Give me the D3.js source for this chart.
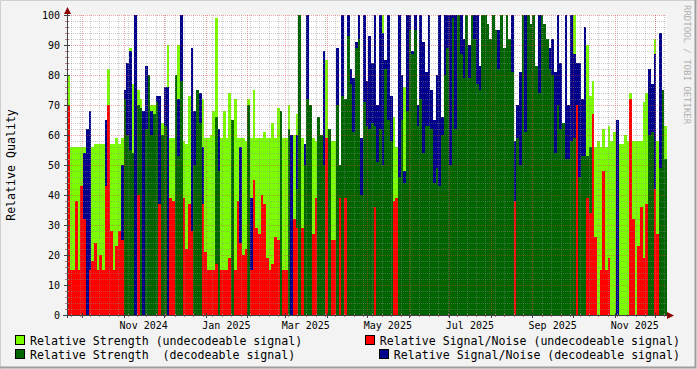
<!DOCTYPE html>
<html><head><meta charset="utf-8">
<script src="https://cdn.jsdelivr.net/npm/d3@7"></script>
<style>
html,body{margin:0;padding:0;background:#f3f3f3;}
svg{display:block;}
text{font-family:"DejaVu Sans Mono",monospace;}
</style></head><body>
<svg id="c" width="697" height="369"></svg>
<script>
const _ = null;
// time bins: one value every 2 days starting at startDate
const startDate = "2024-09-20";
const endDate = "2025-12-10";
const stepDays = 2;

const strengthUndec = [80,56,56,56,56,56,56,60,56,56,57,57,57,57,58,82,57,57,59,57,
59,_,_,89,77,_,75,72,_,_,_,70,70,_,64,64,_,90,59,59,
_,90,_,58,57,73,60,_,_,_,72,59,59,60,68,99,_,59,68,59,
74,64,72,59,59,59,58,72,59,75,59,59,59,61,59,59,64,59,69,_,
59,59,70,_,60,67,_,59,_,_,_,59,58,66,_,_,85,58,58,58,
_,_,95,_,_,_,75,_,_,_,_,_,_,_,64,_,_,100,_,_,
_,66,56,48,73,76,_,_,_,_,_,_,_,_,_,_,_,49,_,_,
_,_,_,_,_,_,_,68,_,_,_,_,92,_,_,_,_,_,_,_,
_,_,_,_,_,_,_,_,_,_,_,_,_,_,_,_,_,_,_,_,
_,_,_,_,_,_,_,_,100,_,_,_,92,90,73,78,56,58,56,62,
56,63,58,61,57,57,57,60,58,74,58,58,58,58,71,74,_,_,92,58,
_,63,63];
const snrUndec = [70,15,15,38,15,43,32,_,15,18,24,15,20,15,43,70,28,15,23,28,
25,_,_,_,_,_,40,_,_,_,_,_,_,_,37,_,_,_,39,38,
_,_,_,39,22,37,28,_,_,_,37,21,15,15,15,17,_,15,15,15,
19,_,15,38,24,20,22,_,15,45,29,27,40,37,19,15,17,26,25,_,
15,15,_,_,32,29,_,29,_,_,_,27,39,_,_,_,59,_,25,25,
_,39,_,39,_,_,_,_,_,_,_,_,_,_,36,_,_,_,_,_,
_,38,39,_,_,_,_,_,_,_,_,_,_,_,_,_,_,_,_,_,
_,_,_,_,_,_,_,_,_,_,_,_,_,_,_,_,_,_,_,_,
_,_,_,_,_,_,38,_,_,_,_,_,_,_,_,_,_,_,_,_,
_,_,_,_,_,_,_,_,_,70,_,_,_,39,34,67,26,_,15,48,
15,19,_,_,_,_,_,_,_,72,32,_,23,36,19,37,_,_,42,27,
_,_,_];
const strengthDec = [_,_,_,_,_,_,_,_,_,_,_,_,_,_,_,_,_,_,_,_,
_,72,60,55,54,_,70,69,_,62,80,60,67,71,_,60,63,_,_,_,
80,53,78,_,_,_,_,50,75,64,_,_,_,_,_,66,48,_,_,_,
_,65,_,_,_,_,_,70,_,_,_,_,_,_,_,_,_,_,_,68,
_,_,62,_,_,42,100,_,50,72,70,_,_,66,60,50,_,62,_,_,
70,50,73,72,93,77,61,89,92,40,71,63,62,64,63,51,62,50,82,65,
58,_,_,46,65,44,68,95,87,95,63,72,54,63,63,62,44,49,43,60,
80,89,50,99,62,100,87,79,100,79,100,92,77,75,100,100,97,92,100,95,
82,100,89,100,92,81,_,59,50,100,61,100,97,100,83,74,100,97,92,82,
80,54,70,62,64,52,52,58,59,46,46,53,53,53,56,_,_,_,_,_,
_,_,_,_,_,_,_,_,_,_,_,_,_,_,_,_,60,61,_,_,
49,75,52];
const snrDec = [56,_,_,_,_,_,54,62,68,_,_,_,_,_,65,_,_,_,_,_,
50,75,84,88,43,100,_,62,68,83,65,68,65,73,73,43,76,76,_,_,
78,72,100,_,_,_,89,68,55,74,56,_,_,_,_,52,62,_,_,_,
_,54,_,_,56,_,_,62,39,_,_,_,_,_,_,_,_,_,_,57,
_,_,_,60,_,60,88,_,57,100,_,_,_,56,54,88,_,57,_,_,
89,42,100,59,100,82,79,91,100,59,100,78,93,84,100,70,100,94,85,100,
73,_,_,100,80,48,100,100,88,100,70,100,91,81,100,75,65,80,100,66,
100,100,100,100,100,_,100,92,_,90,_,100,100,83,100,_,_,_,_,_,
95,_,_,100,_,100,58,70,81,_,100,_,_,_,_,100,_,_,_,89,
92,81,100,84,_,100,70,100,87,84,84,72,96,_,_,_,_,_,_,_,
_,_,_,_,65,_,_,_,_,_,_,_,_,_,_,_,82,77,87,_,
94,63,_];

const yTickValues = [0,10,20,30,40,50,60,70,80,90,100];
const xLabelMonths = ["2024-11-01","2025-01-01","2025-03-01","2025-05-01","2025-07-01","2025-09-01","2025-11-01"];
const xLabelTexts = ["Nov 2024","Jan 2025","Mar 2025","May 2025","Jul 2025","Sep 2025","Nov 2025"];
const seriesNames = ["Relative Strength (undecodeable signal)","Relative Signal/Noise (undecodeable signal)",
  "Relative Strength  (decodeable signal)","Relative Signal/Noise (decodeable signal)"];
const seriesColors = ["#7cfc00","#ff0000","#006400","#00008b"];
const yTitle = "Relative Quality";
const watermark = "RRDTOOL / TOBI OETIKER";

const W = 697, H = 369;
const svg = d3.select("#c");
const parse = d3.utcParse("%Y-%m-%d");
const t0 = parse(startDate), t1 = parse(endDate);
const x = d3.scaleUtc().domain([t0, t1]).range([67, 667]);
const y = d3.scaleLinear().domain([0, 100]).range([315, 15]);
const binStart = i => d3.utcDay.offset(t0, i * stepDays);

// background & frame
svg.append("rect").attr("width", W).attr("height", H).attr("fill", "#f3f3f3");
svg.append("path").attr("d", `M0.5,${H} V0.5 H${W}`).attr("stroke", "#cfcfcf").attr("stroke-width", 1).attr("fill", "none");
svg.append("path").attr("d", `M0,${H-1.5} H${W-1.5} V0`).attr("stroke", "#9e9e9e").attr("stroke-width", 2).attr("fill", "none");
svg.append("rect").attr("x", 67).attr("y", 15).attr("width", 600).attr("height", 300).attr("fill", "#ffffff");

const plot = svg.append("g").attr("shape-rendering", "crispEdges");
function drawSeries(vals, color) {
  const pts = vals.map((v, i) => ({ v, i })).filter(d => d.v != null);
  plot.append("g").selectAll("rect").data(pts).join("rect")
    .attr("x", d => Math.round(x(binStart(d.i))))
    .attr("width", d => Math.min(667, Math.round(x(binStart(d.i + 1)))) - Math.round(x(binStart(d.i))))
    .attr("y", d => y(d.v))
    .attr("height", d => y(0) - y(d.v))
    .attr("fill", color);
}
drawSeries(strengthUndec, seriesColors[0]);
drawSeries(snrDec, seriesColors[3]);
drawSeries(strengthDec, seriesColors[2]);
drawSeries(snrUndec, seriesColors[1]);

// grid (drawn over data like rrdtool)
const grid = svg.append("g").attr("shape-rendering", "crispEdges");
const minorY = d3.range(0, 101, 2).filter(v => v % 10 !== 0);
grid.selectAll(".my").data(minorY).join("line")
  .attr("x1", 67).attr("x2", 667).attr("y1", d => Math.round(y(d)) + 0.5).attr("y2", d => Math.round(y(d)) + 0.5)
  .attr("stroke", "rgba(140,140,140,0.45)").attr("stroke-dasharray", "1,1");
const weeks = d3.utcMonday.range(t0, t1);
grid.selectAll(".mx").data(weeks).join("line")
  .attr("y1", 15).attr("y2", 315).attr("x1", d => Math.round(x(d)) + 0.5).attr("x2", d => Math.round(x(d)) + 0.5)
  .attr("stroke", "rgba(140,140,140,0.45)").attr("stroke-dasharray", "1,1");
grid.selectAll(".My").data(yTickValues.filter(v => v > 0)).join("line")
  .attr("x1", 67).attr("x2", 667).attr("y1", d => Math.round(y(d)) + 0.5).attr("y2", d => Math.round(y(d)) + 0.5)
  .attr("stroke", "rgba(225,60,60,0.45)").attr("stroke-dasharray", "1,1");
const months = d3.utcMonth.range(d3.utcMonth.ceil(t0), t1);
grid.selectAll(".Mx").data(months).join("line")
  .attr("y1", 15).attr("y2", 315).attr("x1", d => Math.round(x(d)) + 0.5).attr("x2", d => Math.round(x(d)) + 0.5)
  .attr("stroke", "rgba(225,60,60,0.45)").attr("stroke-dasharray", "1,1");

// axes
const ax = svg.append("g").attr("shape-rendering", "crispEdges");
ax.selectAll(".yt").data(minorY).join("line")
  .attr("x1", 65).attr("x2", 69).attr("y1", d => Math.round(y(d)) + 0.5).attr("y2", d => Math.round(y(d)) + 0.5)
  .attr("stroke", "#c08080");
ax.selectAll(".yT").data(yTickValues).join("line")
  .attr("x1", 64).attr("x2", 70).attr("y1", d => Math.round(y(d)) + 0.5).attr("y2", d => Math.round(y(d)) + 0.5)
  .attr("stroke", "#404040");
ax.selectAll(".xt").data(weeks).join("line")
  .attr("y1", 314).attr("y2", 317).attr("x1", d => Math.round(x(d)) + 0.5).attr("x2", d => Math.round(x(d)) + 0.5)
  .attr("stroke", "#c08080");
ax.selectAll(".xT").data(months).join("line")
  .attr("y1", 313).attr("y2", 318).attr("x1", d => Math.round(x(d)) + 0.5).attr("x2", d => Math.round(x(d)) + 0.5)
  .attr("stroke", "#404040");
ax.append("line").attr("x1", 67.5).attr("x2", 67.5).attr("y1", 318).attr("y2", 10).attr("stroke", "#404040");
ax.append("line").attr("x1", 63).attr("x2", 670).attr("y1", 315.5).attr("y2", 315.5).attr("stroke", "#404040");
svg.append("path").attr("d", "M67.5,7 L64,14 L71,14 Z").attr("fill", "#8b0000");
svg.append("path").attr("d", "M674,315.5 L667,312 L667,319 Z").attr("fill", "#8b0000");

// y labels
svg.append("g").selectAll("text").data(yTickValues).join("text")
  .attr("x", 60).attr("y", d => y(d) + 3.5).attr("text-anchor", "end")
  .attr("font-size", "10px").attr("fill", "#000").text(d => d);
// x labels (centered in the month)
svg.append("g").selectAll("text").data(xLabelMonths).join("text")
  .attr("x", d => { const m = parse(d); return (x(m) + x(d3.utcMonth.offset(m, 1))) / 2; })
  .attr("y", 328.5).attr("text-anchor", "middle").attr("font-size", "10px").attr("fill", "#000")
  .text((d, i) => xLabelTexts[i]);

// y title
svg.append("text").attr("transform", "translate(15,165) rotate(-90)").attr("text-anchor", "middle")
  .attr("font-size", "11.6px").attr("fill", "#000").text(yTitle);
// watermark
svg.append("text").attr("transform", "translate(684,5) rotate(90)").attr("text-anchor", "start")
  .attr("font-size", "9px").attr("fill", "#b0b0b0").text(watermark);

// legend
const leg = svg.append("g");
const legRows = [{ y: 345, items: [0, 1] }, { y: 359, items: [2, 3] }];
legRows.forEach(r => {
  const li = r.items[0], ri = r.items[1];
  leg.append("rect").attr("x", 15.5).attr("y", r.y - 9.5).attr("width", 9).attr("height", 9)
    .attr("fill", seriesColors[li]).attr("stroke", "#000").attr("stroke-width", 1);
  leg.append("text").attr("x", 30).attr("y", r.y).attr("font-size", "11.6px").attr("fill", "#000")
    .style("white-space", "pre").text(seriesNames[li]);
  const t = leg.append("text").attr("x", 680).attr("y", r.y).attr("text-anchor", "end")
    .attr("font-size", "11.6px").attr("fill", "#000").style("white-space", "pre").text(seriesNames[ri]);
  const tw = t.node().getComputedTextLength();
  leg.append("rect").attr("x", Math.round(680 - tw - 15) + 0.5).attr("y", r.y - 9.5).attr("width", 9).attr("height", 9)
    .attr("fill", seriesColors[ri]).attr("stroke", "#000").attr("stroke-width", 1);
});
</script>
</body></html>
